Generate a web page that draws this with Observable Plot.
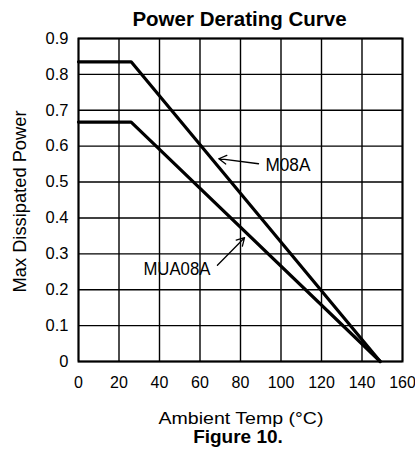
<!DOCTYPE html>
<html><head><meta charset="utf-8">
<script src="https://cdn.jsdelivr.net/npm/d3@7"></script>
<script src="https://cdn.jsdelivr.net/npm/@observablehq/plot@0.6"></script>
<style>body{margin:0;background:#fff}</style>
</head><body><div id="chart"></div>
<script>
const seriesM08A = [{t:0,p:0.835},{t:26,p:0.835},{t:149,p:0}];
const seriesMUA08A = [{t:0,p:0.667},{t:26,p:0.667},{t:149,p:0}];
const xTicks = [0,20,40,60,80,100,120,140,160];
const yTicks = [0,0.1,0.2,0.3,0.4,0.5,0.6,0.7,0.8,0.9];
const labelM08A = [{name:"M08A", t:92.3, p:0.5475}];
const labelMUA08A = [{name:"MUA08A", t:48.6, p:0.256}];
const arrows = [{x1:88.9,y1:0.551,x2:69.3,y2:0.565},{x1:68.6,y1:0.268,x2:82,y2:0.345}];

const sans = "Liberation Sans";
const chart = Plot.plot({
  width: 415, height: 457,
  marginLeft: 78, marginRight: 13, marginTop: 38, marginBottom: 96,
  style: {fontFamily: sans, background: "#fff", color: "#000"},
  x: {domain: [0,160], ticks: xTicks, label: null},
  y: {domain: [0,0.9], ticks: yTicks, label: null},
  marks: [
    Plot.gridX(xTicks, {stroke: "#000", strokeOpacity: 1, strokeWidth: 1.4}),
    Plot.gridY(yTicks, {stroke: "#000", strokeOpacity: 1, strokeWidth: 1.4}),
    Plot.frame({stroke: "#000", strokeWidth: 2}),
    Plot.axisY(yTicks, {tickSize: 0, tickPadding: 10, fontSize: 16.5, tickFormat: d => d === 0 ? "0" : d.toFixed(1)}),
    Plot.axisX(xTicks, {tickSize: 0, tickPadding: 15, fontSize: 16, tickFormat: d => String(d)}),
    Plot.line(seriesM08A, {x: "t", y: "p", stroke: "#000", strokeWidth: 3.2}),
    Plot.line(seriesMUA08A, {x: "t", y: "p", stroke: "#000", strokeWidth: 3.2}),
    Plot.arrow(arrows, {x1: "x1", y1: "y1", x2: "x2", y2: "y2", stroke: "#000", strokeWidth: 1.3, headLength: 10, bend: false}),
    Plot.text(labelM08A, {x: "t", y: "p", text: "name", textAnchor: "start", fontSize: 17.5}),
    Plot.text(labelMUA08A, {x: "t", y: "p", text: "name", textAnchor: "middle", fontSize: 17.5}),
    Plot.text(["Power Derating Curve"], {frameAnchor: "top", lineAnchor: "middle", textAnchor: "middle", dy: -19, dx: -1, fontSize: 20.5, fontWeight: "bold"}),
    Plot.text(["Ambient Temp (°C)"], {frameAnchor: "bottom", lineAnchor: "middle", textAnchor: "middle", dy: 57, dx: 0.5, fontSize: 16.5}),
    Plot.text(["Figure 10."], {frameAnchor: "bottom", lineAnchor: "middle", textAnchor: "middle", dy: 75, dx: -2.5, fontSize: 19, fontWeight: "bold"}),
    Plot.text(["Max Dissipated Power"], {frameAnchor: "left", lineAnchor: "middle", textAnchor: "middle", dx: -58, dy: 1.5, rotate: -90, fontSize: 17.5})
  ]
});
// condense the plotter-style labels to the widths seen in the reference
const fitWidths = {"Max Dissipated Power": 182, "Ambient Temp (°C)": 165, "M08A": 45, "MUA08A": 67};
d3.select(chart).selectAll("text").each(function() {
  const w = fitWidths[this.textContent];
  if (w) { this.setAttribute("textLength", w); this.setAttribute("lengthAdjust", "spacingAndGlyphs"); }
});
document.getElementById("chart").appendChild(chart);
</script></body></html>
